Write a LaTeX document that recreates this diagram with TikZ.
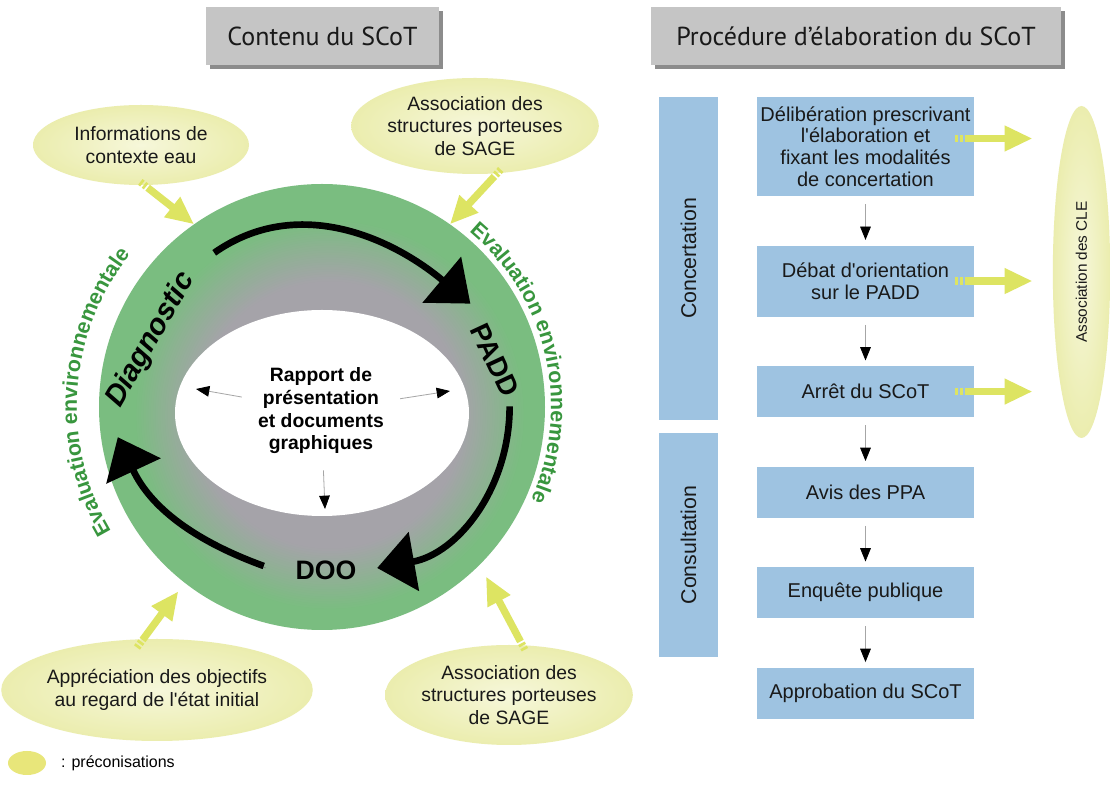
\documentclass[tikz,border=0pt]{standalone}
\usepackage{fontspec}
\setmainfont{Liberation Sans}
\newfontfamily\titlefont{PT Sans}
\usetikzlibrary{shapes.geometric, arrows.meta, positioning, calc, shadows, decorations.text}
\definecolor{ringgreen}{RGB}{122,189,128}
\definecolor{ringgray}{RGB}{170,160,174}
\definecolor{evalgreen}{RGB}{56,150,62}
\definecolor{yellowin}{RGB}{246,247,218}
\definecolor{yellowout}{RGB}{235,237,174}
\definecolor{yarrowcol}{RGB}{221,228,98}
\definecolor{dotyellow}{RGB}{232,230,122}
\definecolor{stepblue}{RGB}{158,195,225}
\definecolor{titlegray}{RGB}{197,197,197}
\definecolor{shadowgray}{RGB}{140,140,140}
\definecolor{arcshadow}{RGB}{120,120,120}
\definecolor{txtdark}{RGB}{25,25,25}
\tikzset{
  titlebox/.style={rectangle, fill=titlegray, minimum height=43.5pt,
    font=\titlefont\fontsize{19.5}{22}\selectfont, text=txtdark,
    drop shadow={shadow xshift=3pt, shadow yshift=-3pt, fill=shadowgray, opacity=1}},
  pill/.style={ellipse, shade, inner color=yellowin, outer color=yellowout, inner sep=0pt, align=center,
    font=\fontsize{14.5}{17}\selectfont, text=txtdark},
  stepbox/.style={rectangle, fill=stepblue, minimum width=162.75pt, align=center,
    font=\fontsize{15}{16.3}\selectfont, text=txtdark, inner sep=0pt},
  phasebar/.style={rectangle, fill=stepblue, rotate=90, minimum height=44.25pt,
    font=\fontsize{16}{18}\selectfont, text=txtdark, inner sep=0pt},
  cycletag/.style={font=\bfseries\fontsize{20}{22}\selectfont, inner sep=2pt},
  bigarc/.style={line width=5pt, -{Triangle[length=28pt, width=44pt]},
    preaction={draw=arcshadow, transform canvas={shift={(1.5pt,-1.5pt)}}}},
  yarrow/.style={draw=yarrowcol, line width=5.5pt, -{Triangle[length=21pt, width=18pt]},
    dash pattern=on 2pt off 1.5pt on 2pt off 1.5pt on 400pt},
  thinarrow/.style={draw=gray!70, line width=0.6pt, -{Triangle[length=10pt, width=8pt, color=black]}},
  flowarrow/.style={thinarrow, shorten <=6pt, shorten >=4pt},
  evaltext/.style={decorate, decoration={text along path, text align=center, text color=evalgreen,
    text={|\bfseries\fontsize{16}{17}\selectfont|Evaluation environnementale}}}
}
\begin{document}
\begin{tikzpicture}[x=0.75pt, y=0.75pt]
  \fill[white] (0,0) rectangle (1111,789);
  \useasboundingbox (0,0) rectangle (1111,789);

  \node[titlebox, minimum width=174.75pt] (titleL) at (322.5,753) {Contenu du SCoT};
  \node[titlebox, minimum width=307.5pt] (titleR) at (856,753) {Procédure d’élaboration du SCoT};

  \node[circle, minimum size=334.5pt, inner sep=0pt, outer sep=0pt, fill=ringgreen] (ring) at (322,382) {};
  \foreach \i in {0,...,26} {
    \pgfmathsetmacro\rr{196-2.4*\i}
    \pgfmathsetmacro\pc{min(90,3.5*\i)}
    \fill[ringgray!\pc!ringgreen] ([shift={(8,-8)}]ring.center) circle[radius=\rr];
  }
  \node[ellipse, fill=white, minimum width=220.5pt, minimum height=154.5pt, inner sep=0pt] (hole) at (322,376) {};
  \node[font=\bfseries\fontsize{14.5}{17}\selectfont, align=center, inner sep=12pt] (rtext) at (321,378)
    {Rapport de\\présentation\\et documents\\graphiques};
  \coordinate (ul) at (196,400);
  \coordinate (ur) at (450,398);
  \coordinate (dn) at (325,280);
  \draw[thinarrow] (rtext) -- (ul);
  \draw[thinarrow] (rtext) -- (ur);
  \draw[thinarrow] (rtext) -- (dn);

  \node[cycletag, font=\bfseries\itshape\fontsize{22}{24}\selectfont, rotate=60] (diag) at (151,449) {Diagnostic};
  \node[cycletag, font=\bfseries\fontsize{21}{23}\selectfont, rotate=-65] (padd) at (495,429) {PADD};
  \node[cycletag] (doo) at (326,219) {DOO};

  \draw[bigarc] ([xshift=18.2pt, yshift=14.8pt]diag.east) to[out=35, in=140] ([xshift=-5.3pt, yshift=14pt]padd.west);
  \draw[bigarc] ([xshift=-2.2pt, yshift=-6.5pt]padd.east) to[out=-90, in=10] ([xshift=13.4pt, yshift=1.5pt]doo.east);
  \draw[bigarc] ([xshift=-21.7pt, yshift=3pt]doo.west) to[out=160, in=-65] ([xshift=4.3pt, yshift=-22.3pt]diag.west);

  \path[evaltext] ([shift={(252:245)}]ring.center) arc[start angle=252, end angle=100, radius=245];
  \path[evaltext] ([shift={(88:229)}]ring.center) arc[start angle=88, end angle=-62, radius=229];

  \node[pill, minimum width=162pt, minimum height=60pt] (info) at (141,644) {Informations de\\contexte eau};
  \node[pill, minimum width=135pt, minimum height=72pt] (sageN) at (475,663) {Association des\\structures porteuses\\de SAGE};
  \node[pill, minimum width=192pt, minimum height=76.5pt] (appr) at (157,99) {Appréciation des objectifs\\au regard de l\textquotesingle état initial};
  \node[pill, minimum width=136.5pt, minimum height=75pt] (sageS) at (509,94) {Association des\\structures porteuses\\de SAGE};

  \draw[yarrow, shorten <=-4pt] (info.-85) -- (ring.125);
  \draw[yarrow, shorten <=-4pt] (sageN.-65) -- (ring.55);
  \draw[yarrow, shorten <=-8pt, shorten >=8pt] (appr.105) -- (ring.232);
  \draw[yarrow, shorten <=-4pt, shorten >=10pt] (sageS.75) -- (ring.-45);

  \node[phasebar, minimum width=242.25pt] (concert) at (688.5,530.5) {Concertation};
  \node[phasebar, minimum width=168pt] (consult) at (688.5,244) {Consultation};

  \node[stepbox, minimum height=74.25pt] (deli) at (865.5,642.5)
    {Délibération prescrivant\\l\textquotesingle élaboration et\\fixant les modalités\\de concertation};
  \node[stepbox, minimum height=53.25pt, below=36.75pt of deli] (debat) {Débat d\textquotesingle orientation\\sur le PADD};
  \node[stepbox, minimum height=38.25pt, below=36.75pt of debat] (arret) {Arrêt du SCoT};
  \node[stepbox, minimum height=38.25pt, below=36.75pt of arret] (avis) {Avis des PPA};
  \node[stepbox, minimum height=38.25pt, below=36.75pt of avis] (enquete) {Enquête publique};
  \node[stepbox, minimum height=38.25pt, below=36.75pt of enquete] (appro) {Approbation du SCoT};
  \foreach \a/\b in {deli/debat, debat/arret, arret/avis, avis/enquete, enquete/appro}
    \draw[flowarrow] (\a) -- (\b);

  \node[pill, rotate=90, minimum width=249pt, minimum height=43pt, font=\fontsize{11.5}{13}\selectfont] (cle) at (1081.5,517) {Association des CLE};
  \foreach \s/\dy in {deli/8, debat/0, arret/0}
    \draw[yarrow, shorten >=15pt] ($(\s.east)+(-19,\dy)$) coordinate (ys) -- (ys -| cle.north);

  \node[ellipse, fill=dotyellow, minimum width=28.5pt, minimum height=18pt, inner sep=0pt] (dot) at (27,26) {};
  \node[right=11pt of dot, font=\fontsize{12}{14}\selectfont, inner sep=0pt] (legtxt) {: préconisations};
\end{tikzpicture}
\end{document}
